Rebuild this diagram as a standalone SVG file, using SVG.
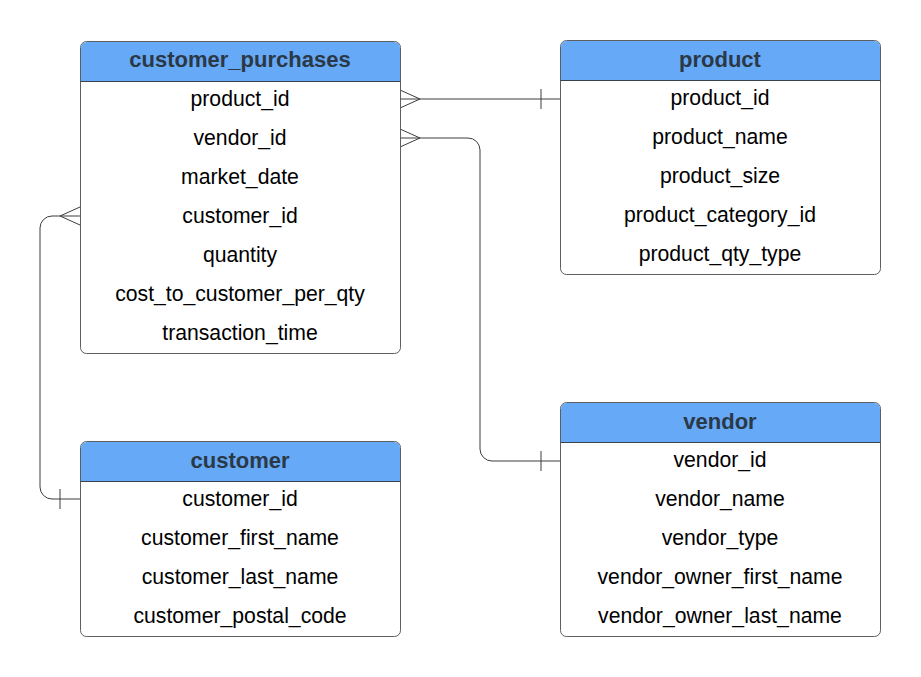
<svg xmlns="http://www.w3.org/2000/svg" width="921" height="677" viewBox="0 0 921 677">
<style>
.box{fill:#ffffff;stroke:#5f5f5f;stroke-width:1}
.hdr{fill:#66a9f6}
.sep{stroke:#3a4250;stroke-width:1}
.title{font-family:"Liberation Sans",Arial,sans-serif;font-size:22px;font-weight:bold;fill:#2b3846;text-anchor:middle}
.row{font-family:"Liberation Sans",Arial,sans-serif;font-size:21.2px;fill:#000000;text-anchor:middle}
.conn{fill:none;stroke:#3c3c3c;stroke-width:1}
</style>
<rect width="921" height="677" fill="#ffffff"/>
<g id="connectors">
  <path class="conn" d="M400,99 H560"/>
  <path class="conn" d="M400,90 L420,99 L400,108"/>
  <path class="conn" d="M541,89 V109"/>
  <path class="conn" d="M400,138 H468 A12,12 0 0 1 480,150 V449 A12,12 0 0 0 492,461 H560"/>
  <path class="conn" d="M400,129 L420,138 L400,147"/>
  <path class="conn" d="M541,451 V471"/>
  <path class="conn" d="M80,216 H52 A12,12 0 0 0 40,228 V487 A12,12 0 0 0 52,499 H80"/>
  <path class="conn" d="M80,207 L60,216 L80,225"/>
  <path class="conn" d="M60,489 V509"/>
</g>
<g id="customer_purchases">
  <rect class="box" x="80.5" y="41.5" width="320" height="312" rx="6"/>
  <path class="hdr" d="M81,81 V47.5 A5.5,5.5 0 0 1 86.5,42 H394.5 A5.5,5.5 0 0 1 400,47.5 V81 Z"/>
  <path class="sep" d="M80.5,81.5 H400.5"/>
  <text class="title" x="240" y="67">customer_purchases</text>
  <text class="row" x="240" y="106">product_id</text>
  <text class="row" x="240" y="145">vendor_id</text>
  <text class="row" x="240" y="184">market_date</text>
  <text class="row" x="240" y="223">customer_id</text>
  <text class="row" x="240" y="262">quantity</text>
  <text class="row" x="240" y="301">cost_to_customer_per_qty</text>
  <text class="row" x="240" y="340">transaction_time</text>
</g>
<g id="product">
  <rect class="box" x="560.5" y="40.5" width="320" height="234" rx="6"/>
  <path class="hdr" d="M561,80 V46.5 A5.5,5.5 0 0 1 566.5,41 H874.5 A5.5,5.5 0 0 1 880,46.5 V80 Z"/>
  <path class="sep" d="M560.5,80.5 H880.5"/>
  <text class="title" x="720" y="66.5">product</text>
  <text class="row" x="720" y="105">product_id</text>
  <text class="row" x="720" y="144">product_name</text>
  <text class="row" x="720" y="183">product_size</text>
  <text class="row" x="720" y="222">product_category_id</text>
  <text class="row" x="720" y="261">product_qty_type</text>
</g>
<g id="customer">
  <rect class="box" x="80.5" y="441.5" width="320" height="195" rx="6"/>
  <path class="hdr" d="M81,481 V447.5 A5.5,5.5 0 0 1 86.5,442 H394.5 A5.5,5.5 0 0 1 400,447.5 V481 Z"/>
  <path class="sep" d="M80.5,481.5 H400.5"/>
  <text class="title" x="240" y="467.5">customer</text>
  <text class="row" x="240" y="505.5">customer_id</text>
  <text class="row" x="240" y="544.5">customer_first_name</text>
  <text class="row" x="240" y="583.5">customer_last_name</text>
  <text class="row" x="240" y="622.5">customer_postal_code</text>
</g>
<g id="vendor">
  <rect class="box" x="560.5" y="402.5" width="320" height="234" rx="6"/>
  <path class="hdr" d="M561,442 V408.5 A5.5,5.5 0 0 1 566.5,403 H874.5 A5.5,5.5 0 0 1 880,408.5 V442 Z"/>
  <path class="sep" d="M560.5,442.5 H880.5"/>
  <text class="title" x="720" y="428.5">vendor</text>
  <text class="row" x="720" y="466.5">vendor_id</text>
  <text class="row" x="720" y="505.5">vendor_name</text>
  <text class="row" x="720" y="544.5">vendor_type</text>
  <text class="row" x="720" y="583.5">vendor_owner_first_name</text>
  <text class="row" x="720" y="622.5">vendor_owner_last_name</text>
</g>
</svg>
